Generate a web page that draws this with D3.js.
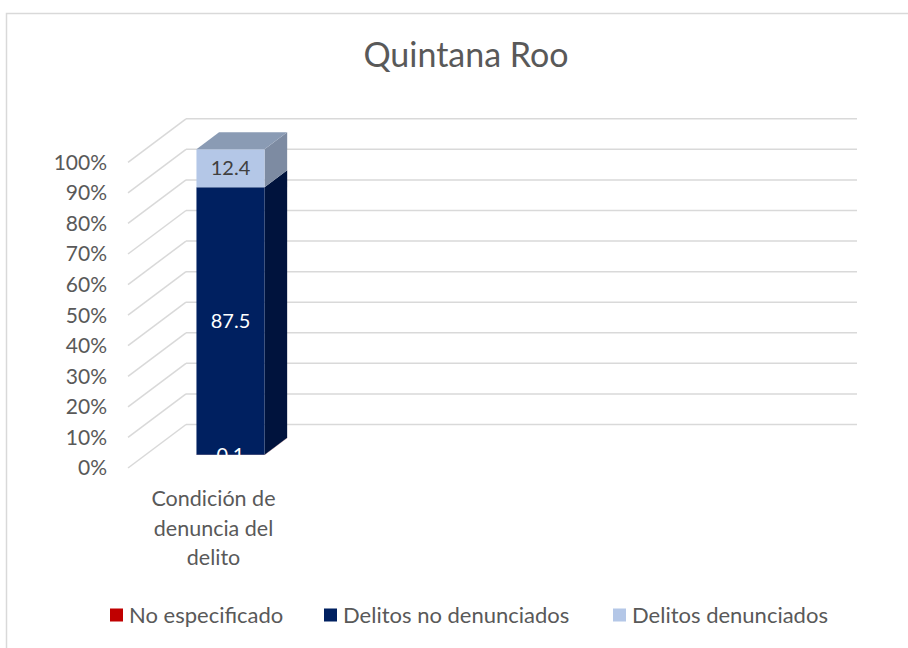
<!DOCTYPE html>
<html>
<head>
<meta charset="utf-8">
<script src="https://cdn.jsdelivr.net/npm/d3@7"></script>
<style>
  body { margin: 0; background: #fff; }
  text { font-family: Lato, "Open Sans", sans-serif; }
</style>
</head>
<body>
<div id="chart"></div>
<script>
const title = 'Quintana Roo'
const categories = ['Condición de denuncia del delito']
const categoryLines = [['Condición de', 'denuncia del', 'delito']]
const seriesNames = ['No especificado', 'Delitos no denunciados', 'Delitos denunciados']
const seriesColors = ['#C00000', '#002060', '#B4C7E7']
const sideColors = ['#7a0000', '#00133d', '#7d8ba2']
const topColors = ['#a04040', '#33446e', '#8a9bb4']
const labelColors = ['#ffffff', '#ffffff', '#404040']
const values = [[0.1], [87.5], [12.4]]
const yTicks = [0, 0.1, 0.2, 0.3, 0.4, 0.5, 0.6, 0.7, 0.8, 0.9, 1]

const width = 908
const height = 648

// 3d projection: depth vector for the full floor depth
const depth = { dx: 58, dy: -43.5 }
const floorY = 468
const frontLeft = 128
const frontRight = 799
const barZ = [0.3, 0.69]

const svg = d3.select('#chart')
  .append('svg')
  .attr('width', width)
  .attr('height', height)

// chart border
svg.append('rect')
  .attr('x', 6.5).attr('y', 13.5)
  .attr('width', 1000).attr('height', 1000)
  .attr('fill', 'none')
  .attr('stroke', '#d9d9d9')
  .attr('stroke-width', 1.5)

svg.append('text')
  .attr('x', 466).attr('y', 67)
  .attr('text-anchor', 'middle')
  .attr('font-size', 34)
  .attr('fill', '#595959')
  .text(title)

const y = d3.scaleLinear().domain([0, 1]).range([0, 305.7])
const x = d3.scaleBand().domain(categories).range([frontLeft, 298.2])
  .paddingInner(0.6).paddingOuter(0.3)

const pt = (px, h, z) => [px + depth.dx * z, floorY - y(h) + depth.dy * z]

// gridlines: back wall + left wall diagonals
const grid = svg.append('g')
  .attr('stroke', '#d9d9d9')
  .attr('stroke-width', 1.5)
  .attr('fill', 'none')
grid.selectAll('line.back')
  .data(yTicks)
  .enter()
  .append('line')
  .attr('class', 'back')
  .attr('x1', d => pt(frontLeft, d, 1)[0])
  .attr('y1', d => pt(frontLeft, d, 1)[1])
  .attr('x2', d => pt(frontRight, d, 1)[0])
  .attr('y2', d => pt(frontRight, d, 1)[1])
grid.selectAll('line.side')
  .data(yTicks)
  .enter()
  .append('line')
  .attr('class', 'side')
  .attr('x1', d => pt(frontLeft, d, 0)[0])
  .attr('y1', d => pt(frontLeft, d, 0)[1])
  .attr('x2', d => pt(frontLeft, d, 1)[0])
  .attr('y2', d => pt(frontLeft, d, 1)[1])

// y tick labels
svg.append('g')
  .selectAll('text')
  .data(yTicks)
  .enter()
  .append('text')
  .attr('x', 107)
  .attr('y', d => pt(frontLeft, d, 0)[1])
  .attr('dy', '0.35em')
  .attr('text-anchor', 'end')
  .attr('font-size', 21)
  .attr('fill', '#595959')
  .text(d => d3.format('.0%')(d))

// stacked percent data
const stackData = categories.map((c, i) => {
  const row = { cat: c }
  seriesNames.forEach((s, j) => { row[s] = values[j][i] })
  return row
})
const stacked = d3.stack().keys(seriesNames).offset(d3.stackOffsetExpand)(stackData)

const bars = svg.append('g')
const poly = pts => pts.map(p => p.join(',')).join(' ')
stacked.forEach((layer, j) => {
  layer.forEach(seg => {
    const x0 = x(seg.data.cat)
    const x1 = x0 + x.bandwidth()
    const [h0, h1] = seg
    // side face
    bars.append('polygon')
      .attr('points', poly([pt(x1, h0, barZ[0]), pt(x1, h0, barZ[1]), pt(x1, h1, barZ[1]), pt(x1, h1, barZ[0])]))
      .attr('fill', sideColors[j])
    // front face
    bars.append('polygon')
      .attr('points', poly([pt(x0, h0, barZ[0]), pt(x1, h0, barZ[0]), pt(x1, h1, barZ[0]), pt(x0, h1, barZ[0])]))
      .attr('fill', seriesColors[j])
    // top face on the last segment
    if (j === stacked.length - 1) {
      bars.append('polygon')
        .attr('points', poly([pt(x0, h1, barZ[0]), pt(x1, h1, barZ[0]), pt(x1, h1, barZ[1]), pt(x0, h1, barZ[1])]))
        .attr('fill', topColors[j])
    }
  })
})

// data labels
stacked.forEach((layer, j) => {
  layer.forEach((seg, i) => {
    const cx = x(seg.data.cat) + x.bandwidth() / 2
    const p = pt(cx, (seg[0] + seg[1]) / 2, barZ[0])
    svg.append('text')
      .attr('x', p[0]).attr('y', p[1])
      .attr('dy', '0.35em')
      .attr('text-anchor', 'middle')
      .attr('font-size', 20)
      .attr('fill', labelColors[j])
      .text(values[j][i])
  })
})

// category label
categories.forEach((c, i) => {
  const cx = x(c) + x.bandwidth() / 2 + 0.4
  const t = svg.append('text')
    .attr('y', 506)
    .attr('text-anchor', 'middle')
    .attr('font-size', 21.5)
    .attr('fill', '#595959')
  categoryLines[i].forEach((line, k) => {
    t.append('tspan')
      .attr('x', cx)
      .attr('dy', k === 0 ? 0 : 29.5)
      .text(line)
  })
})

// legend
const legendX = [110, 324, 613]
const legend = svg.append('g')
  .selectAll('g')
  .data(seriesNames)
  .enter()
  .append('g')
  .attr('transform', (d, i) => `translate(${legendX[i]}, 615)`)
legend.append('rect')
  .attr('x', 0).attr('y', -6.5)
  .attr('width', 13).attr('height', 13)
  .attr('fill', (d, i) => seriesColors[i])
legend.append('text')
  .attr('x', 19)
  .attr('dy', '0.35em')
  .attr('font-size', 22)
  .attr('fill', '#595959')
  .text(d => d)
</script>
</body>
</html>
